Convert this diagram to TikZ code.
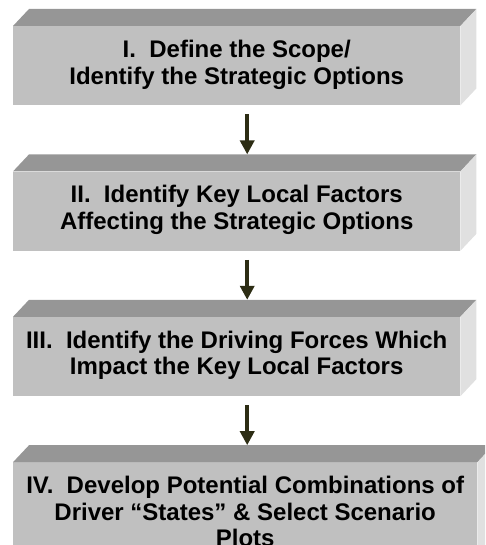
\documentclass[tikz,border=0pt]{standalone}
\usepackage{fontspec}
\setmainfont{Liberation Sans}
\usepackage{tikz}
\usetikzlibrary{positioning,arrows.meta}
\definecolor{frontgray}{RGB}{192,192,192}
\definecolor{topgray}{RGB}{150,150,150}
\definecolor{sidegray}{RGB}{224,224,224}
\definecolor{arrowdark}{RGB}{45,45,20}

\begin{document}
\begin{tikzpicture}[x=1pt,y=1pt,
    slab/.style={fill=frontgray, minimum width=447pt, minimum height=79pt, inner sep=0pt, anchor=north west},
    steptext/.style={font=\bfseries\fontsize{24}{26.5}\selectfont, align=center, inner sep=0pt, anchor=north},
    flow/.style={-{Triangle[width=14pt,length=14pt]}, line width=4.5pt, arrowdark}]
    \useasboundingbox (0,0) rectangle (485,-545);
    \clip (0,0) rectangle (485,-545);
    % front faces
    \node[slab] (b1) at (13,-26) {};
    \node[slab, below=66pt of b1.south west, anchor=north west] (b2) {};
    \node[slab, below=66pt of b2.south west, anchor=north west] (b3) {};
    \node[slab, below=66pt of b3.south west, anchor=north west, minimum width=464pt, minimum height=110pt] (b4) {};
    % top and side faces
    \foreach \b in {b1,b2,b3,b4} {
      \fill[topgray] (\b.north west) -- ([shift={(16pt,17pt)}]\b.north west) -- ([shift={(16pt,17pt)}]\b.north east) -- (\b.north east) -- cycle;
      \fill[sidegray] (\b.north east) -- ([shift={(16pt,17pt)}]\b.north east) -- ([shift={(16pt,17pt)}]\b.south east) -- (\b.south east) -- cycle;
    }
    % labels
    \node[steptext, below=14pt of b1.north] (t1) {I.~~Define the Scope/\\Identify the Strategic Options};
    \node[steptext, below=14pt of b2.north] (t2) {II.~~Identify Key Local Factors\\Affecting the Strategic Options};
    \node[steptext, below=14pt of b3.north] (t3) {III.~~Identify the Driving Forces Which\\Impact the Key Local Factors};
    \node[steptext, below=14pt of b4.north] (t4) {IV.~~Develop Potential Combinations of\\Driver “States” \& Select Scenario\\Plots};
    % arrows
    \draw[flow] ([shift={(10.5pt,-9pt)}]b1.south) -- ([shift={(10.5pt,17pt)}]b2.north);
    \draw[flow] ([shift={(10.5pt,-9pt)}]b2.south) -- ([shift={(10.5pt,17pt)}]b3.north);
    \draw[flow] ([shift={(10.5pt,-9pt)}]b3.south) -- ([shift={(2pt,17pt)}]b4.north);
\end{tikzpicture}
\end{document}
